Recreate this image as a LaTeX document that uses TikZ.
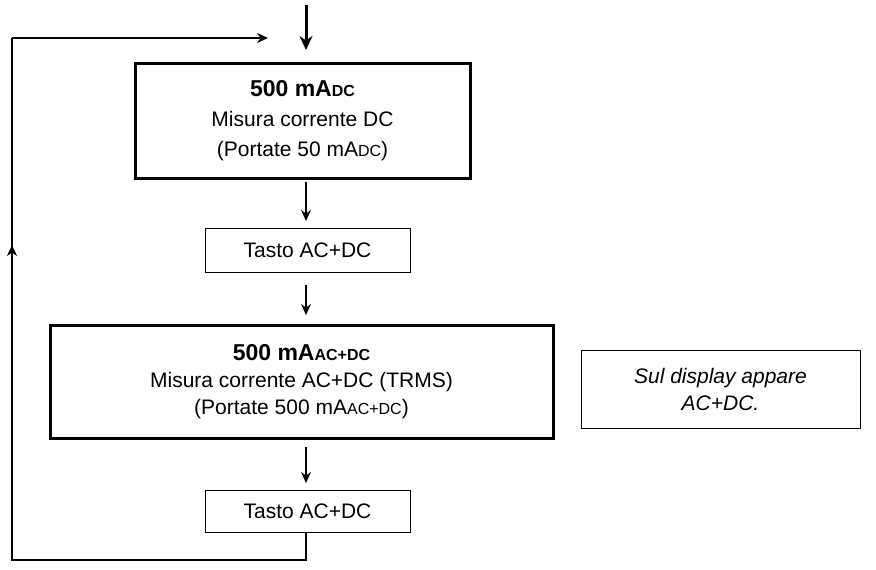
\documentclass[tikz,border=0pt]{standalone}
\usepackage{fontspec}
\setmainfont{Liberation Sans}
\usetikzlibrary{arrows.meta}
\begin{document}
\begin{tikzpicture}[x=1pt,y=-1pt,
  big/.style={draw,line width=3pt,align=center,font=\fontsize{21}{30}\selectfont,inner sep=0},
  small/.style={draw,line width=1pt,align=center,font=\fontsize{21}{30}\selectfont,inner sep=0},
  arr/.style={-{Stealth[length=11pt,width=10pt]},line width=1.3pt}]
\useasboundingbox (0,0) rectangle (876,570);
\newcommand{\sm}[1]{{\fontsize{16}{16}\selectfont #1}}
\newcommand{\hd}[1]{{\fontsize{23}{30}\selectfont\bfseries #1}}
\node[big,minimum width=335,minimum height=115] (b1) at (302.5,120.5) {\hd{500 mA\sm{\textbf{DC}}}\\Misura corrente DC\\(Portate 50 mA\sm{DC})};
\node[small,minimum width=205,minimum height=44] (t1) at (307.5,250) {Tasto AC+DC};
\node[big,minimum width=503,minimum height=113,font=\fontsize{21}{27}\selectfont] (b2) at (301.5,381.5) {\hd{500 mA\sm{\textbf{AC+DC}}}\\Misura corrente AC+DC (TRMS)\\(Portate 500 mA\sm{AC+DC})};
\node[small,minimum width=279,minimum height=78,font=\itshape\fontsize{21}{27}\selectfont] (r) at (720.5,389) {Sul display appare\\AC+DC.};
\node[small,minimum width=205,minimum height=42] (t2) at (307.5,511) {Tasto AC+DC};
\coordinate (top) at (306,5);
\coordinate (c1) at (306,560);
\coordinate (c2) at (12,560);
\coordinate (c3) at (12,38);
\coordinate (c4) at (268,38);
\coordinate (mid) at (12,245);
\draw[-{Stealth[length=14pt,width=13pt]},line width=3pt] (top) -- (306,50);
\draw[arr] (b1.south -| 306,0) ++(0,2) -- (306,221);
\draw[arr] (t1.south -| 306,0) ++(0,12) -- (306,315);
\draw[arr] (b2.south -| 306,0) ++(0,7) -- (306,483);
\draw[line width=1.3pt] (t2.south -| 306,0) -- (c1) -- (c2) -- (c3);
\draw[arr] (c3) -- (c4);
\draw[arr] (12,262) -- (mid);
\end{tikzpicture}
\end{document}
